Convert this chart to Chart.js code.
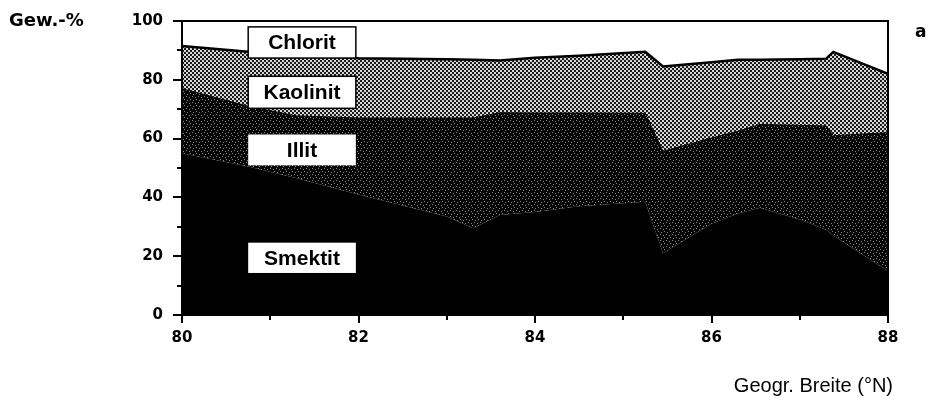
<!DOCTYPE html>
<html>
<head>
<meta charset="utf-8">
<script src="https://cdn.jsdelivr.net/npm/chart.js@4"></script>
<style>
  html, body { margin: 0; padding: 0; background: #fff; }
  #wrap { width: 934px; height: 405px; position: relative; }
</style>
</head>
<body>
<div id="wrap"><canvas id="clayChart" width="934" height="405"></canvas></div>
<script>
// latitude (°N) where the outlines break
const latitudes = [80, 80.75, 81.3, 82, 83, 83.3, 83.6, 84, 84.5, 85.25, 85.45, 86, 86.3, 86.55, 87, 87.3, 87.38, 88];

// weight-% of each clay mineral
const smektit  = [55, 50.5, 46.5, 41, 33.5, 29.5, 34, 35, 37, 38.5, 21, 31, 34.5, 36.5, 32.5, 29, 27, 15];
const illit    = [22, 20.5, 21.2, 26, 33.5, 37.5, 34.8, 33.7, 31.7, 30.1, 34.7, 29.2, 28, 28.3, 32, 35.3, 34, 47];
const kaolinit = [14.5, 18.5, 21.1, 20.3, 20, 19.8, 17.8, 18.8, 19.5, 20.9, 28.8, 25.8, 24.3, 22, 22.5, 22.9, 28.5, 20];
const chlorit  = [8.5, 10.5, 11.2, 12.7, 13, 13.2, 13.4, 12.5, 11.8, 10.5, 15.5, 14, 13.2, 13.2, 13, 12.8, 10.5, 18];

const xTicks = [80, 82, 84, 86, 88];
const yTicks = [0, 20, 40, 60, 80, 100];

// label boxes: [text, from lat, to lat, top %, bottom %]
const boxes = [
  ["Chlorit", 80.75, 81.97, 98, 87.4],
  ["Kaolinit", 80.75, 81.97, 81.2, 70.3],
  ["Illit", 80.75, 81.97, 61.4, 50.9],
  ["Smektit", 80.75, 81.97, 24.6, 14.3]
];

const FONT = "'Liberation Sans', Arial, Helvetica, sans-serif";
const WIDE = "'DejaVu Sans', Verdana, sans-serif";

/** tiny tiles for the screen-tone fills */
function makePattern(size, bg, fg, dots) {
  const c = document.createElement("canvas");
  c.width = size; c.height = size;
  const g = c.getContext("2d");
  g.fillStyle = bg;
  g.fillRect(0, 0, size, size);
  g.fillStyle = fg;
  dots.forEach(d => g.fillRect(d[0], d[1], d[2] || 1, d[3] || 1));
  return g.createPattern(c, "repeat");
}

const ctx0 = document.getElementById("clayChart").getContext("2d");
const kaolinitFill = makePattern(4, "#d6d6d6", "#1c1c1c", [[0, 0, 2, 2], [2, 2, 2, 2]]);
const illitFill = makePattern(6, "#050505", "#8a8a8a", [[0, 0], [3, 1], [1, 4], [4, 3]]);

function pts(arr) {
  return arr.map((v, i) => ({ x: latitudes[i], y: v }));
}

const framePlugin = {
  id: "frame",
  afterDraw(chart) {
    const { ctx, chartArea: a, scales } = chart;
    const xs = scales.x, ys = scales.y;
    ctx.save();
    ctx.strokeStyle = "#000";
    ctx.lineWidth = 2;
    ctx.strokeRect(a.left, a.top, a.right - a.left, a.bottom - a.top);

    // ticks, long ones at the labelled values
    for (let v = 0; v <= 100; v += 10) {
      const y = Math.round(ys.getPixelForValue(v));
      const len = v % 20 === 0 ? 9 : 5;
      ctx.beginPath();
      ctx.moveTo(a.left - len, y);
      ctx.lineTo(a.left, y);
      ctx.stroke();
    }
    for (let v = 80; v <= 88; v += 1) {
      const x = Math.round(xs.getPixelForValue(v));
      const len = v % 2 === 0 ? 8 : 5;
      ctx.beginPath();
      ctx.moveTo(x, a.bottom);
      ctx.lineTo(x, a.bottom + len);
      ctx.stroke();
    }

    // label boxes
    boxes.forEach((b, i) => {
      const x1 = xs.getPixelForValue(b[1]);
      const x2 = xs.getPixelForValue(b[2]);
      const y1 = ys.getPixelForValue(b[3]);
      const y2 = ys.getPixelForValue(b[4]);
      ctx.fillStyle = "#fff";
      ctx.fillRect(x1, y1, x2 - x1, y2 - y1);
      if (i < 2) {
        ctx.lineWidth = 1.5;
        ctx.strokeRect(x1, y1, x2 - x1, y2 - y1);
      }
      ctx.fillStyle = "#000";
      ctx.font = "bold 21px " + FONT;
      ctx.textAlign = "center";
      ctx.textBaseline = "middle";
      ctx.fillText(b[0], (x1 + x2) / 2, (y1 + y2) / 2 + 1);
    });

    // titles
    ctx.font = "bold 18px " + WIDE;
    ctx.textAlign = "left";
    ctx.fillText("Gew.-%", 9, 21);
    ctx.font = "bold 17px " + WIDE;
    ctx.fillText("a", 915, 33);
    ctx.font = "20px " + FONT;
    ctx.textAlign = "right";
    ctx.fillText("Geogr. Breite (°N)", 893, 386);
    ctx.restore();
  }
};

function noPad(s) {
  s.paddingTop = 0; s.paddingBottom = 0; s.paddingLeft = 0; s.paddingRight = 0;
}

new Chart(ctx0, {
  type: "line",
  data: {
    datasets: [
      { label: "Smektit", data: pts(smektit), backgroundColor: "#000", borderWidth: 0, fill: "origin" },
      { label: "Illit", data: pts(illit), backgroundColor: illitFill, borderColor: "#000", borderWidth: 1, fill: "-1" },
      { label: "Kaolinit", data: pts(kaolinit), backgroundColor: kaolinitFill, borderColor: "#000", borderWidth: 2.5, fill: "-1" },
      { label: "Chlorit", data: pts(chlorit), backgroundColor: "#fff", borderWidth: 0, fill: "-1" }
    ]
  },
  options: {
    responsive: false,
    animation: false,
    events: [],
    elements: { point: { radius: 0 }, line: { tension: 0 } },
    layout: { padding: { top: 21, right: 46, left: 0, bottom: 0 } },
    plugins: { legend: { display: false }, tooltip: { enabled: false } },
    scales: {
      x: {
        type: "linear",
        min: 80, max: 88,
        grid: { display: false, drawTicks: false },
        border: { display: false },
        afterFit(s) { s.height = 90; noPad(s); },
        afterBuildTicks(s) { s.ticks = xTicks.map(v => ({ value: v })); },
        ticks: { color: "#000", font: { family: WIDE, size: 15, weight: "bold" }, padding: 14, maxRotation: 0 }
      },
      y: {
        stacked: true,
        min: 0, max: 100,
        grid: { display: false, drawTicks: false },
        border: { display: false },
        afterFit(s) { s.width = 182; noPad(s); },
        afterBuildTicks(s) { s.ticks = yTicks.map(v => ({ value: v })); },
        ticks: { color: "#000", font: { family: WIDE, size: 15, weight: "bold" }, padding: 19 }
      }
    }
  },
  plugins: [framePlugin]
});
</script>
</body>
</html>
